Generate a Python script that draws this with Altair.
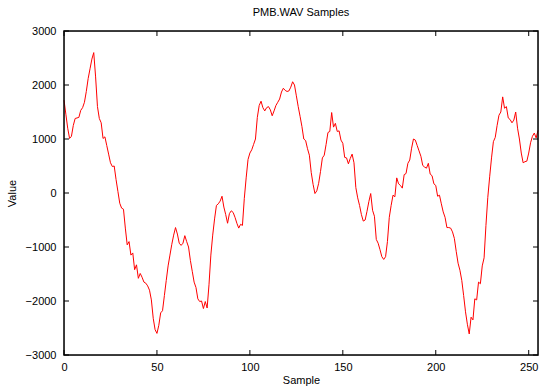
import altair as alt
import pandas as pd

values = [
    1720, 1460, 1200, 1010, 1050, 1250, 1380, 1390, 1400, 1530,
    1580, 1680, 1880, 2120, 2300, 2480, 2600, 2150, 1600, 1380,
    1300, 1010, 1040, 880, 720, 560, 490, 500, 250, 30,
    -190, -280, -300, -650, -960, -900, -1150, -1110, -1420, -1330,
    -1580, -1490, -1560, -1650, -1670, -1720, -1800, -1980, -2320, -2530,
    -2600, -2450, -2220, -2180, -1900, -1620, -1350, -1150, -950, -780,
    -640, -760, -930, -970, -930, -790, -900, -1000, -1250, -1450,
    -1650, -1750, -1960, -2010, -2000, -2140, -2010, -2130, -1700, -1150,
    -780, -480, -230, -200, -150, -60, -260, -400, -560, -380,
    -330, -360, -450, -560, -650, -580, -600, -100, 280, 620,
    740, 800, 900, 1000, 1400, 1620, 1700, 1580, 1520, 1580,
    1600, 1540, 1430, 1520, 1620, 1680, 1740, 1870, 1940, 1900,
    1880, 1890, 1960, 2060, 2000, 1800, 1600, 1420, 1230, 1000,
    970, 820, 700, 380, 160, -10, 40, 180, 400, 650,
    700, 900, 1120, 1140, 1490, 1220, 1290, 1140, 1150, 980,
    920, 660, 650, 540, 640, 720, 560, 100, -90, -230,
    -400, -520, -500, -340, -160, -10, -320, -430, -860, -930,
    -1050, -1180, -1230, -1180, -900, -450, -230, -40, -70, 280,
    170, 140, 90, 340, 360, 550, 610, 830, 1000, 980,
    880, 780, 680, 510, 480, 460, 550, 350, 320, 170,
    140, -60, -40, -200, -350, -450, -640, -640, -650, -720,
    -840, -1080, -1300, -1430, -1620, -1900, -2200, -2430, -2610, -2300,
    -2350, -1960, -1980, -1650, -1680, -1350, -1200, -600, -80, 300,
    650, 950, 1030, 1250, 1440, 1500, 1780, 1570, 1600, 1390,
    1360, 1300, 1350, 1500, 1200, 1000, 740, 560, 580, 590,
    740, 930, 1050, 1110, 1020, 1160,
]
samples = list(range(len(values)))
x_ticks = [0, 50, 100, 150, 200, 250]
y_ticks = [-3000, -2000, -1000, 0, 1000, 2000, 3000]

W, H = 474, 324
FONT = "Liberation Sans"

xs = alt.Scale(domain=[0, 255], nice=False, zero=False)
ys = alt.Scale(domain=[-3000, 3000], nice=False)

df = pd.DataFrame({"Sample": samples, "Value": values})
xt = pd.DataFrame({"t": x_ticks})
yt = pd.DataFrame({"v": y_ticks})
frame_df = pd.DataFrame({"f": [0]})

axis_common = dict(tickSize=0, domain=False, grid=False, format="d",
                   labelFlush=False, labelFont=FONT, labelFontSize=11,
                   labelColor="black", titleFont=FONT, titleFontSize=11,
                   titleFontWeight="normal", titleColor="black")

line = alt.Chart(df).mark_line(color="#ff0000", strokeWidth=1).encode(
    x=alt.X("Sample:Q", scale=xs, title="Sample",
            axis=alt.Axis(values=x_ticks, labelPadding=6, titleY=25,
                          titleBaseline="middle", **axis_common)),
    y=alt.Y("Value:Q", scale=ys, title="Value",
            axis=alt.Axis(values=y_ticks, labelPadding=8, titleX=-52, titleY=H / 2,
                          titleAlign="center", titleBaseline="middle", **axis_common)),
)

frame = alt.Chart(frame_df).mark_rect(fill=None, stroke="black", strokeWidth=1.5).encode(
    x=alt.value(0), x2=alt.value(W), y=alt.value(0), y2=alt.value(H))

tick_style = dict(color="black", strokeWidth=1)
xb = alt.Chart(xt).mark_rule(**tick_style).encode(
    x=alt.X("t:Q", scale=xs, axis=None), y=alt.value(H), y2=alt.value(H - 5))
xtop = alt.Chart(xt).mark_rule(**tick_style).encode(
    x=alt.X("t:Q", scale=xs, axis=None), y=alt.value(0), y2=alt.value(5))
yl = alt.Chart(yt).mark_rule(**tick_style).encode(
    y=alt.Y("v:Q", scale=ys, axis=None), x=alt.value(0), x2=alt.value(5))
yr = alt.Chart(yt).mark_rule(**tick_style).encode(
    y=alt.Y("v:Q", scale=ys, axis=None), x=alt.value(W), x2=alt.value(W - 5))

chart = alt.layer(line, xb, xtop, yl, yr, frame).resolve_axis(
    x="independent", y="independent"
).properties(
    width=W, height=H,
    autosize="none",
    padding={"left": 64, "top": 31, "right": 1, "bottom": 31},
    title=alt.TitleParams("PMB.WAV Samples", font=FONT, fontSize=11,
                          fontWeight="normal", color="black", offset=7),
).configure_view(stroke=None).configure(background="white")

chart.save("out.html", embed_options={"renderer": "svg", "actions": False})
